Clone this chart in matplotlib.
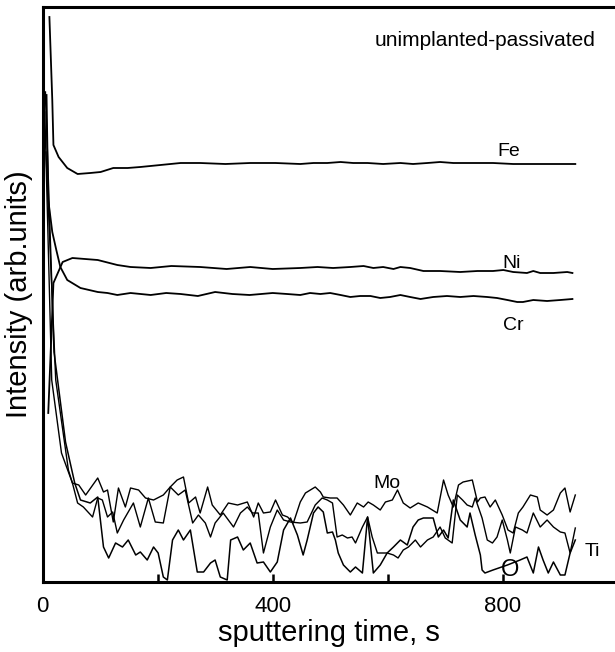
import matplotlib
matplotlib.use('Agg')
import matplotlib.pyplot as plt

plt.rcParams['font.family'] = ['Liberation Sans', 'DejaVu Sans']

# sputtering time (s) and intensity (arb. units)
fe_t = [12, 17, 19, 28, 43, 61, 83, 101, 123, 148, 170, 205, 240, 274, 318, 361, 405, 448, 471, 495,
        518, 540, 565, 592, 622, 644, 669, 691, 714, 749, 783, 818, 853, 888, 926]
fe_i = [565, 482, 437, 425, 414, 408, 409, 410, 414, 414, 415, 417, 419, 419, 418, 419, 419, 418, 419, 419,
        420, 419, 419, 418, 419, 418, 419, 420, 419, 419, 419, 418, 418, 418, 418]

cr_t = [7, 10, 17, 24, 31, 43, 66, 96, 113, 130, 153, 188, 215, 240, 270, 300, 330, 360, 400, 425,
        448, 465, 483, 500, 518, 535, 552, 570, 587, 604, 622, 639, 657, 679, 703, 726, 749, 773, 790, 808,
        825, 835, 853, 877, 900, 921]
cr_i = [487, 382, 350, 332, 315, 302, 294, 290, 289, 287, 289, 287, 289, 288, 286, 290, 288, 287, 289, 288,
        287, 289, 288, 289, 287, 285, 286, 286, 284, 285, 287, 285, 283, 285, 286, 285, 286, 285, 284, 282,
        280, 280, 282, 281, 282, 283]

ni_t = [10, 19, 35, 52, 96, 130, 153, 188, 224, 274, 320, 361, 400, 448, 478, 505, 535, 558, 575, 592,
        610, 622, 639, 662, 691, 726, 756, 783, 801, 818, 842, 853, 865, 888, 912, 921]
ni_i = [169, 299, 320, 324, 322, 317, 315, 314, 316, 315, 313, 315, 313, 314, 315, 314, 315, 316, 314, 315,
        313, 315, 314, 311, 311, 310, 311, 311, 312, 310, 309, 311, 309, 309, 310, 309]

mo_t = [4, 16, 33, 52, 63, 75, 96, 106, 113, 123, 132, 144, 153, 167, 179, 193, 210, 222, 234, 245,
        254, 266, 274, 287, 295, 309, 323, 339, 356, 367, 375, 384, 396, 405, 417, 426, 436, 448, 457, 474,
        483, 488, 500, 512, 523, 535, 547, 558, 566, 575, 587, 596, 608, 617, 627, 639, 653, 669, 686, 697,
        705, 714, 723, 731, 747, 756, 761, 769, 778, 787, 799, 809, 818, 827, 835, 848, 860, 865, 877, 888,
        900, 908, 917, 926]
mo_i = [470, 202, 129, 99, 97, 87, 104, 90, 92, 60, 94, 75, 94, 92, 84, 82, 87, 95, 102, 105,
        79, 85, 69, 95, 77, 67, 79, 77, 80, 65, 79, 69, 70, 82, 67, 65, 59, 80, 89, 95,
        90, 85, 84, 84, 77, 67, 79, 75, 80, 77, 72, 80, 82, 92, 79, 74, 79, 75, 69, 102,
        87, 75, 97, 100, 102, 80, 84, 85, 75, 82, 67, 52, 49, 69, 75, 87, 85, 72, 67, 72,
        89, 94, 70, 87]

ti_t = [6, 23, 45, 52, 61, 71, 87, 96, 104, 113, 122, 130, 141, 149, 158, 170, 184, 196, 210, 222,
        236, 248, 261, 271, 283, 292, 300, 314, 332, 344, 356, 365, 375, 384, 396, 408, 419, 431, 448, 460,
        474, 486, 495, 504, 512, 521, 530, 538, 544, 556, 565, 573, 582, 591, 599, 610, 618, 627, 636, 648,
        657, 669, 679, 691, 700, 712, 721, 730, 738, 747, 752, 764, 773, 782, 790, 799, 808, 813, 822, 834,
        842, 853, 865, 877, 888, 900, 908, 917, 926]
ti_i = [430, 202, 112, 99, 79, 75, 65, 84, 82, 65, 70, 49, 62, 70, 79, 55, 84, 60, 59, 95,
        87, 92, 59, 67, 59, 45, 59, 69, 55, 69, 75, 69, 69, 29, 55, 72, 62, 60, 59, 60,
        77, 84, 82, 79, 45, 47, 44, 45, 39, 55, 65, 45, 29, 29, 29, 27, 24, 32, 35, 42,
        35, 42, 45, 55, 44, 39, 87, 82, 77, 75, 84, 64, 42, 39, 45, 62, 42, 29, 55, 52,
        49, 69, 55, 62, 55, 50, 49, 29, 54]

o_t = [5, 20, 40, 56, 66, 83, 96, 106, 115, 127, 139, 149, 162, 170, 182, 193, 201, 210, 217, 226,
       236, 245, 257, 269, 280, 292, 300, 309, 321, 327, 339, 349, 361, 373, 384, 396, 408, 419, 431, 443,
       453, 460, 471, 479, 488, 495, 504, 509, 514, 523, 535, 544, 556, 565, 575, 587, 599, 610, 622, 634,
       644, 653, 662, 679, 688, 697, 705, 714, 726, 738, 743, 752, 761, 764, 769, 783, 808, 830, 842, 853,
       862, 870, 879, 888, 900, 908, 917, 926]
o_i = [490, 230, 140, 99, 82, 79, 85, 35, 24, 39, 35, 42, 27, 30, 22, 35, 29, 5, 2, 42,
       52, 42, 52, 10, 10, 19, 22, 5, 2, 42, 45, 32, 39, 19, 20, 10, 20, 52, 64, 47,
       27, 42, 69, 75, 70, 49, 50, 42, 29, 17, 10, 15, 9, 65, 9, 17, 29, 35, 42, 37,
       55, 62, 64, 64, 45, 52, 44, 82, 62, 55, 69, 47, 27, 12, 9, 12, 17, 22, 25, 9,
       35, 22, 9, 20, 7, 7, 29, 42]

# element labels placed next to the curves
labels = ['Fe', 'Ni', 'Cr', 'Mo', 'Ti', 'O']
label_t = [811, 815, 818, 599, 955, 813]
label_i = [431, 318, 257, 99, 30, 12]
label_size = [14, 14, 14, 14, 14, 17]

fig = plt.figure(figsize=(6.15, 6.52), dpi=100)
ax = fig.add_axes([42.5 / 615, 70 / 652, 572.5 / 615, 575 / 652])

for t, i, lw in [(fe_t, fe_i, 1.3), (cr_t, cr_i, 1.3), (ni_t, ni_i, 1.3),
                 (mo_t, mo_i, 1.0), (ti_t, ti_i, 1.0), (o_t, o_i, 1.1)]:
    ax.plot(t, i, color='black', lw=lw)

for name, t, i, s in zip(labels, label_t, label_i, label_size):
    ax.text(t, i, name, fontsize=s, ha='center', va='center')

ax.text(961, 542, 'unimplanted-passivated', fontsize=15, ha='right', va='center')

ax.set_xlim(0, 995)
ax.set_ylim(0, 575)
ax.spines['right'].set_visible(False)
for side in ['left', 'top', 'bottom']:
    ax.spines[side].set_linewidth(2.2)

ax.set_yticks([])
ax.set_xticks([0, 400, 800])
ax.set_xticks([200, 600], minor=True)
ax.tick_params(axis='x', which='both', direction='in', length=6, width=1.8, labelsize=16, pad=10)

ax.set_xlabel('sputtering time, s', fontsize=21, va='top')
ax.xaxis.set_label_coords(0.5, -0.064)
ax.set_ylabel('Intensity (arb.units)', fontsize=21)
ax.yaxis.set_label_coords(-0.017, 0.5)

fig.savefig('out.png', dpi=100)
